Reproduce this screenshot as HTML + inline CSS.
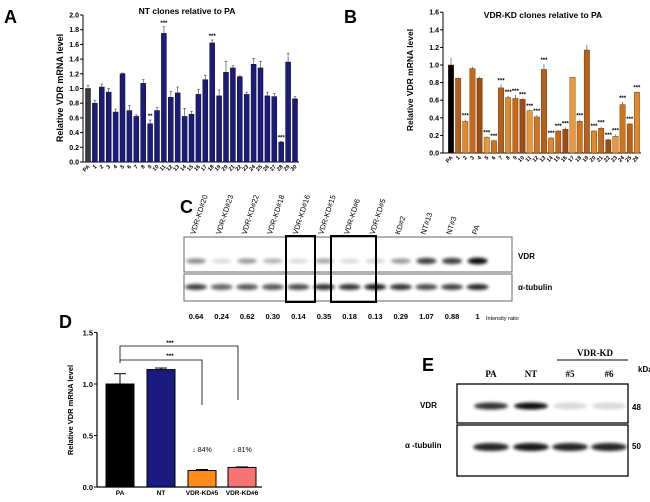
<!DOCTYPE html>
<html><head><meta charset="utf-8"><style>
body{margin:0;background:#fff;width:650px;height:497px;overflow:hidden}
svg{font-family:"Liberation Sans",Arial,sans-serif}
</style></head><body>
<svg id="s" width="650" height="497" viewBox="0 0 650 497">
<defs><filter id="bl" x="-20%" y="-100%" width="140%" height="300%"><feGaussianBlur stdDeviation="1.6"/></filter></defs>
</svg>
<script>
// Panel A data
const aCats=['PA','1','2','3','4','5','6','7','8','9','10','11','12','13','14','15','16','17','18','19','20','21','22','23','24','25','26','27','28','29','30'];
const aVals=[1.0,0.80,1.02,0.95,0.68,1.20,0.70,0.62,1.07,0.52,0.70,1.75,0.88,0.94,0.62,0.65,0.92,1.12,1.62,0.90,1.22,1.28,1.16,0.92,1.33,1.28,0.90,0.89,0.27,1.36,0.86];
const aErr=[0.04,0.04,0.04,0.05,0.04,0.01,0.07,0.02,0.05,0.05,0.04,0.09,0.08,0.08,0.11,0.04,0.07,0.06,0.04,0.08,0.15,0.03,0.01,0.03,0.08,0.09,0.05,0.04,0.01,0.12,0.03];
const aStars={9:'**',11:'***',18:'***',28:'***'};
const aTicks=[0,0.2,0.4,0.6,0.8,1.0,1.2,1.4,1.6,1.8,2.0];
// Panel B data
const bCats=['PA','1','2','3','4','5','6','7','8','9','10','11','12','13','14','15','16','17','18','19','20','21','22','23','24','25','26'];
const bVals=[1.0,0.85,0.36,0.96,0.85,0.18,0.14,0.74,0.63,0.62,0.61,0.48,0.41,0.95,0.17,0.25,0.27,0.86,0.36,1.17,0.25,0.28,0.15,0.19,0.55,0.33,0.69];
const bErr=[0.08,0.01,0.02,0.02,0.02,0.01,0.01,0.04,0.02,0.04,0.01,0.01,0.02,0.06,0.01,0.01,0.02,0,0.02,0.06,0.01,0.02,0.01,0.02,0.03,0.01,0.01];
const bStars=[0,0,1,0,0,1,1,1,1,1,1,1,1,1,1,1,1,0,1,0,1,1,1,1,1,1,1];
const bTicks=[0,0.2,0.4,0.6,0.8,1.0,1.2,1.4,1.6];
// Panel C
const cLanes=['VDR-KD#20','VDR-KD#23','VDR-KD#22','VDR-KD#18','VDR-KD#16','VDR-KD#15','VDR-KD#6','VDR-KD#5','KD#2','NT#13','NT#3','PA'];
const cRatio=['0.64','0.24','0.62','0.30','0.14','0.35','0.18','0.13','0.29','1.07','0.88','1'];
const cVdr=[0.45,0.15,0.4,0.3,0.15,0.35,0.15,0.18,0.4,0.75,0.75,0.95];
const cTub=[0.75,0.6,0.65,0.65,0.7,0.8,0.8,0.9,0.8,0.7,0.75,0.85];
// Panel D
const dCats=['PA','NT','VDR-KD#5','VDR-KD#6'];
const dVals=[1.0,1.14,0.16,0.19];
const dErr=[0.10,0.015,0.01,0.005];
const dTicks=[0,0.5,1.0,1.5];
const dColors=['#000','#1a1a80','#ff8c1a','#f87373'];
// Panel E
const eLanes=['PA','NT','#5','#6'];
const eVdr=[0.8,0.95,0.15,0.15];
const eTub=[0.85,0.9,0.85,0.85];

const S=document.getElementById('s');const NS='http://www.w3.org/2000/svg';
function el(t,a,txt,p){const e=document.createElementNS(NS,t);for(const k in a)e.setAttribute(k,a[k]);if(txt!=null)e.textContent=txt;(p||S).appendChild(e);return e;}
function txt(x,y,s,size,anchor,extra){const a=Object.assign({x:x,y:y,'font-size':size,'text-anchor':anchor||'middle','font-weight':'bold'},extra||{});const t=el('text',a,s);return t;}

// ---- Panel A
{const x0=83,y0=162,k=73.5,st=6.9,c0=88,bw=5;
const y=v=>y0-v*k, x=i=>c0+i*st;
let t=txt(4,23,'A',18,'start');
t=txt(187,14,'NT clones relative to PA',8.5);
el('line',{x1:x0,y1:y0,x2:x0,y2:y(2),stroke:'#000'});el('line',{x1:x0,y1:y0,x2:299,y2:y0,stroke:'#000'});
aTicks.forEach(v=>{el('line',{x1:x0-3,x2:x0,y1:y(v),y2:y(v),stroke:'#000'});txt(x0-4,y(v)+2.5,v.toFixed(1),7,'end');});
t=txt(0,0,'Relative VDR mRNA level',9,'middle',{transform:'translate(63,88) rotate(-90)'});
aVals.forEach((v,i)=>{const b=el('rect',{x:x(i)-bw/2,y:y(v),width:bw,height:v*k,fill:i==0?'#3a3a3a':'#1c1c78',stroke:'#0a0a30','stroke-width':0.5});

el('line',{x1:x(i),x2:x(i),y1:y(v),y2:y(v+aErr[i]),stroke:'#555','stroke-width':0.7});el('line',{x1:x(i)-1.3,x2:x(i)+1.3,y1:y(v+aErr[i]),y2:y(v+aErr[i]),stroke:'#555','stroke-width':0.7});
if(aStars[i])txt(x(i),y(v+aErr[i])-2,aStars[i],6);
txt(0,0,aCats[i],5.5,'end',{transform:`translate(${x(i)+2},${y0+5}) rotate(-45)`});});}

// ---- Panel B
{const x0=443,y0=153,k=88,st=7.15,c0=451,bw=5.4;
const y=v=>y0-v*k,x=i=>c0+i*st;const cols=['#d0741c','#b8601a','#e08a2c','#c46a18','#9a4c12','#e89a3a'];
let t=txt(344,23,'B',18,'start');
t=txt(543,18,'VDR-KD clones relative to PA',8.5);
el('line',{x1:x0,y1:y0,x2:x0,y2:y(1.6),stroke:'#000'});el('line',{x1:x0,y1:y0,x2:641,y2:y0,stroke:'#000'});
bTicks.forEach(v=>{el('line',{x1:x0-3,x2:x0,y1:y(v),y2:y(v),stroke:'#000'});txt(x0-4,y(v)+2.5,v.toFixed(1),7,'end');});
t=txt(0,0,'Relative VDR mRNA level',8.5,'middle',{transform:'translate(413,80) rotate(-90)'});
bVals.forEach((v,i)=>{const b=el('rect',{x:x(i)-bw/2,y:y(v),width:bw,height:v*k,fill:i==0?'#000':cols[i%cols.length],stroke:'#5a2a05','stroke-width':0.4});

el('line',{x1:x(i),x2:x(i),y1:y(v),y2:y(v+bErr[i]),stroke:'#555','stroke-width':0.7});
if(bStars[i])txt(x(i),y(v+bErr[i])-2,'***',6);
txt(0,0,bCats[i],5.5,'end',{transform:`translate(${x(i)+2},${y0+5}) rotate(-45)`});});}

// ---- Panel C
{const lx=i=>196+i*25.6;
let t=txt(180,213,'C',18,'start');
el('rect',{x:184,y:237,width:328,height:35,fill:'#fff',stroke:'#666'});el('rect',{x:184,y:274,width:328,height:27,fill:'#fff',stroke:'#666'});
cLanes.forEach((n,i)=>{t=txt(0,0,n,7.5,'start',{'font-weight':'normal',transform:`translate(${lx(i)-1},235) rotate(-72)`});
el('ellipse',{cx:lx(i),cy:261,rx:10,ry:2+cVdr[i]*1.5,fill:'#000',opacity:cVdr[i],filter:'url(#bl)'});
el('ellipse',{cx:lx(i),cy:287,rx:11,ry:3,fill:'#000',opacity:cTub[i],filter:'url(#bl)'});
txt(lx(i),319,cRatio[i],7.5);});
el('rect',{x:286,y:236,width:29,height:66,fill:'none',stroke:'#000','stroke-width':2});
el('rect',{x:331,y:236,width:45,height:66,fill:'none',stroke:'#000','stroke-width':2});
txt(518,259,'VDR',8,'start');txt(518,290,'α-tubulin',8,'start');txt(486,320,'Intensity ratio',5.5,'start',{'font-weight':'normal'});}

// ---- Panel D
{const x0=97,y0=487,k=103,cx=[120,161,202,242],bw=28;const y=v=>y0-v*k;
let t=txt(59,328,'D',18,'start');
el('line',{x1:x0,y1:y0,x2:x0,y2:y(1.5),stroke:'#000','stroke-width':1.2});el('line',{x1:x0,y1:y0,x2:262,y2:y0,stroke:'#000','stroke-width':1.2});
dTicks.forEach(v=>{el('line',{x1:x0-3,x2:x0,y1:y(v),y2:y(v),stroke:'#000'});txt(x0-4,y(v)+3,v.toFixed(1),7.5,'end');});
t=txt(0,0,'Relative VDR mRNA level',7.5,'middle',{transform:'translate(73,410) rotate(-90)'});
dVals.forEach((v,i)=>{const b=el('rect',{x:cx[i]-bw/2,y:y(v),width:bw,height:v*k,fill:dColors[i],stroke:'#000','stroke-width':1});

el('line',{x1:cx[i],x2:cx[i],y1:y(v),y2:y(v+dErr[i]),stroke:'#000'});el('line',{x1:cx[i]-6,x2:cx[i]+6,y1:y(v+dErr[i]),y2:y(v+dErr[i]),stroke:'#000'});
txt(cx[i],495,dCats[i],6.5);});
el('polyline',{points:`120,363 120,346 238,346 238,400`,fill:'none',stroke:'#000','stroke-width':0.8});
el('polyline',{points:`120,360 202,360 202,405`,fill:'none',stroke:'#000','stroke-width':0.8});
txt(170,345,'***',6.5);txt(170,358,'***',6.5);
txt(202,452,'↓ 84%',7,'middle',{'font-weight':'normal'});txt(242,452,'↓ 81%',7,'middle',{'font-weight':'normal'});}

// ---- Panel E
{const lx=[491,531,570,609];const serif={'font-family':'Liberation Serif,serif'};
let t=txt(422,371,'E',18,'start');
txt(595,356,'VDR-KD',9,'middle',serif);el('line',{x1:557,x2:628,y1:360,y2:360,stroke:'#000'});
txt(638,372,'kDa',8,'start');
el('rect',{x:457,y:384,width:171,height:39,fill:'#fff',stroke:'#000','stroke-width':1.3});
el('rect',{x:457,y:425,width:171,height:51,fill:'#fff',stroke:'#000','stroke-width':1.3});
eLanes.forEach((n,i)=>{t=txt(lx[i],377,n,9,'middle',serif);
el('ellipse',{cx:lx[i],cy:406,rx:17,ry:3.5,fill:'#000',opacity:eVdr[i],filter:'url(#bl)'});
el('ellipse',{cx:lx[i],cy:447,rx:18,ry:4,fill:'#000',opacity:eTub[i],filter:'url(#bl)'});});
txt(420,408,'VDR',8,'start');txt(405,448,'α -tubulin',8,'start');txt(632,410,'48',8,'start');txt(632,449,'50',8,'start');}
</script>
</body></html>
